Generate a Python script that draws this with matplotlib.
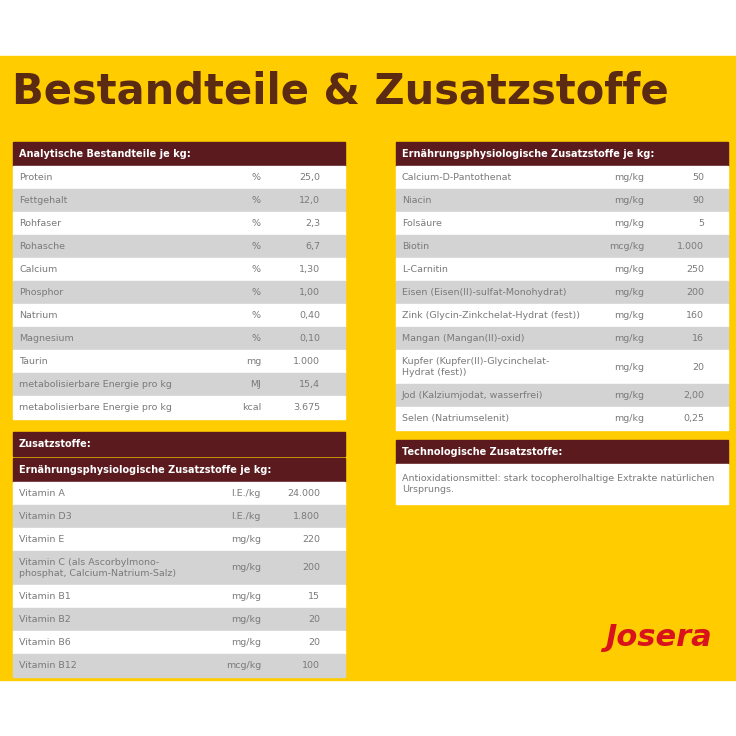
import matplotlib
matplotlib.use('Agg')
import matplotlib.pyplot as plt
from matplotlib.patches import Rectangle

# ---- data ----
analyt_names = ['Protein', 'Fettgehalt', 'Rohfaser', 'Rohasche', 'Calcium', 'Phosphor',
                'Natrium', 'Magnesium', 'Taurin', 'metabolisierbare Energie pro kg',
                'metabolisierbare Energie pro kg']
analyt_units = ['%', '%', '%', '%', '%', '%', '%', '%', 'mg', 'MJ', 'kcal']
analyt_values = ['25,0', '12,0', '2,3', '6,7', '1,30', '1,00', '0,40', '0,10', '1.000', '15,4', '3.675']

vit_names = ['Vitamin A', 'Vitamin D3', 'Vitamin E',
             'Vitamin C (als Ascorbylmono-\nphosphat, Calcium-Natrium-Salz)',
             'Vitamin B1', 'Vitamin B2', 'Vitamin B6', 'Vitamin B12']
vit_units = ['I.E./kg', 'I.E./kg', 'mg/kg', 'mg/kg', 'mg/kg', 'mg/kg', 'mg/kg', 'mcg/kg']
vit_values = ['24.000', '1.800', '220', '200', '15', '20', '20', '100']

zus_names = ['Calcium-D-Pantothenat', 'Niacin', 'Folsäure', 'Biotin', 'L-Carnitin',
             'Eisen (Eisen(II)-sulfat-Monohydrat)', 'Zink (Glycin-Zinkchelat-Hydrat (fest))',
             'Mangan (Mangan(II)-oxid)', 'Kupfer (Kupfer(II)-Glycinchelat-\nHydrat (fest))',
             'Jod (Kalziumjodat, wasserfrei)', 'Selen (Natriumselenit)']
zus_units = ['mg/kg', 'mg/kg', 'mg/kg', 'mcg/kg', 'mg/kg', 'mg/kg', 'mg/kg', 'mg/kg',
             'mg/kg', 'mg/kg', 'mg/kg']
zus_values = ['50', '90', '5', '1.000', '250', '200', '160', '16', '20', '2,00', '0,25']

tech_text = 'Antioxidationsmittel: stark tocopherolhaltige Extrakte natürlichen\nUrsprungs.'

YELLOW = '#FFCC00'
BROWN = '#5a1a1e'
GREY = '#d3d3d3'
TXT = '#7a7a7a'

fig = plt.figure(figsize=(7.36, 7.36), dpi=100)
ax = fig.add_axes([0, 0, 1, 1])
ax.set_xlim(0, 736)
ax.set_ylim(736, 0)
ax.axis('off')

ax.add_patch(Rectangle((0, 56), 736, 624, color=YELLOW, zorder=0))
ax.text(12, 92, 'Bestandteile & Zusatzstoffe', fontsize=30, fontweight='bold',
        color='#5b2a12', va='center', ha='left')


def header(x, y, w, label, h=24):
    ax.add_patch(Rectangle((x, y), w, h, color=BROWN))
    ax.text(x + 6, y + h / 2, label, color='white', fontsize=7, fontweight='bold', va='center')


def table(x, y, w, names, units, values, ux, vx):
    for i, (n, u, v) in enumerate(zip(names, units, values)):
        h = 34 if '\n' in n else 23
        ax.add_patch(Rectangle((x, y), w, h, color='white' if i % 2 == 0 else GREY))
        ax.text(x + 6, y + h / 2, n, color=TXT, fontsize=6.8, va='center', linespacing=1.3)
        ax.text(ux, y + h / 2, u, color=TXT, fontsize=6.8, va='center', ha='right')
        ax.text(vx, y + h / 2, v, color=TXT, fontsize=6.8, va='center', ha='right')
        y += h
    return y


header(13, 142, 332, 'Analytische Bestandteile je kg:')
table(13, 166, 332, analyt_names, analyt_units, analyt_values, 261, 320)

header(13, 432, 332, 'Zusatzstoffe:')
header(13, 458, 332, 'Ernährungsphysiologische Zusatzstoffe je kg:')
table(13, 482, 332, vit_names, vit_units, vit_values, 261, 320)

header(396, 142, 332, 'Ernährungsphysiologische Zusatzstoffe je kg:')
table(396, 166, 332, zus_names, zus_units, zus_values, 644, 704)

header(396, 440, 332, 'Technologische Zusatzstoffe:')
ax.add_patch(Rectangle((396, 464), 332, 40, color='white'))
ax.text(402, 484, tech_text, color=TXT, fontsize=6.8, va='center', linespacing=1.4)

ax.text(658, 637, 'Josera', fontsize=22, fontweight='bold', fontstyle='italic',
        color='#d8131b', ha='center', va='center')

fig.savefig('out.png', dpi=100)
